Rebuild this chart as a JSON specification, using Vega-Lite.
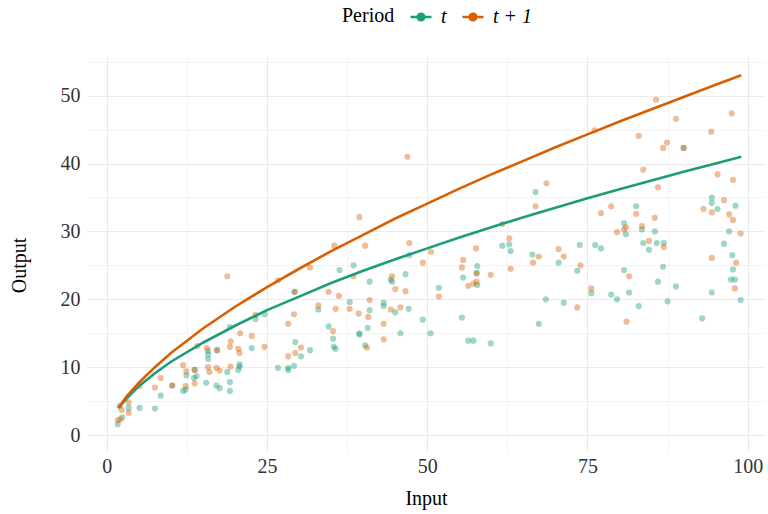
{
  "$schema": "https://vega.github.io/schema/vega-lite/v6.json",
  "width": 678,
  "height": 395,
  "autosize": {"type": "none"},
  "padding": {"left": 87, "top": 57, "right": 3, "bottom": 62},
  "background": "white",
  "config": {
    "font": "Liberation Serif",
    "view": {"stroke": null},
    "axis": {
      "domain": false,
      "ticks": false,
      "labelFont": "Liberation Serif",
      "labelFontSize": 20,
      "labelColor": "#333333",
      "titleFont": "Liberation Serif",
      "titleFontSize": 20,
      "titleFontWeight": "normal",
      "titleColor": "#000000",
      "gridColor": "#ebebeb"
    },
    "legend": {
      "titleFont": "Liberation Serif",
      "labelFont": "Liberation Serif"
    }
  },
  "data": {
    "values": [
      {"kind": "pt", "period": "t", "input": 19.2, "output": 15.9},
      {"kind": "pt", "period": "t", "input": 23.2, "output": 17.1},
      {"kind": "pt", "period": "t", "input": 24.6, "output": 17.8},
      {"kind": "pt", "period": "t", "input": 22.6, "output": 12.8},
      {"kind": "pt", "period": "t", "input": 15.8, "output": 12.4},
      {"kind": "pt", "period": "t", "input": 15.8, "output": 11.9},
      {"kind": "pt", "period": "t", "input": 15.8, "output": 11.2},
      {"kind": "pt", "period": "t", "input": 20.7, "output": 10.4},
      {"kind": "pt", "period": "t", "input": 20.7, "output": 10.1},
      {"kind": "pt", "period": "t", "input": 20.5, "output": 9.6},
      {"kind": "pt", "period": "t", "input": 18.8, "output": 9.3},
      {"kind": "pt", "period": "t", "input": 12.4, "output": 8.8},
      {"kind": "pt", "period": "t", "input": 14.0, "output": 8.7},
      {"kind": "pt", "period": "t", "input": 13.6, "output": 8.4},
      {"kind": "pt", "period": "t", "input": 15.5, "output": 7.7},
      {"kind": "pt", "period": "t", "input": 17.1, "output": 7.3},
      {"kind": "pt", "period": "t", "input": 17.6, "output": 6.9},
      {"kind": "pt", "period": "t", "input": 19.2, "output": 7.8},
      {"kind": "pt", "period": "t", "input": 19.2, "output": 6.5},
      {"kind": "pt", "period": "t", "input": 11.9, "output": 6.5},
      {"kind": "pt", "period": "t", "input": 12.3, "output": 6.7},
      {"kind": "pt", "period": "t", "input": 8.4, "output": 5.8},
      {"kind": "pt", "period": "t", "input": 5.1, "output": 4.0},
      {"kind": "pt", "period": "t", "input": 7.5, "output": 3.9},
      {"kind": "pt", "period": "t", "input": 3.4, "output": 4.0},
      {"kind": "pt", "period": "t", "input": 2.0, "output": 4.3},
      {"kind": "pt", "period": "t", "input": 2.4, "output": 2.6},
      {"kind": "pt", "period": "t", "input": 1.7, "output": 1.6},
      {"kind": "pt", "period": "t", "input": 17.2, "output": 12.5},
      {"kind": "pt", "period": "t", "input": 13.7, "output": 9.6},
      {"kind": "pt", "period": "t", "input": 10.2, "output": 7.3},
      {"kind": "pt", "period": "t", "input": 36.3, "output": 24.3},
      {"kind": "pt", "period": "t", "input": 38.5, "output": 25.0},
      {"kind": "pt", "period": "t", "input": 41.0, "output": 22.6},
      {"kind": "pt", "period": "t", "input": 44.3, "output": 22.9},
      {"kind": "pt", "period": "t", "input": 44.5, "output": 22.6},
      {"kind": "pt", "period": "t", "input": 46.6, "output": 23.7},
      {"kind": "pt", "period": "t", "input": 47.2, "output": 26.5},
      {"kind": "pt", "period": "t", "input": 29.3, "output": 21.1},
      {"kind": "pt", "period": "t", "input": 33.0, "output": 18.5},
      {"kind": "pt", "period": "t", "input": 37.9, "output": 19.6},
      {"kind": "pt", "period": "t", "input": 41.0, "output": 18.4},
      {"kind": "pt", "period": "t", "input": 43.2, "output": 19.5},
      {"kind": "pt", "period": "t", "input": 43.2, "output": 19.0},
      {"kind": "pt", "period": "t", "input": 45.0, "output": 18.1},
      {"kind": "pt", "period": "t", "input": 47.1, "output": 18.6},
      {"kind": "pt", "period": "t", "input": 34.6, "output": 16.0},
      {"kind": "pt", "period": "t", "input": 35.3, "output": 14.2},
      {"kind": "pt", "period": "t", "input": 35.4, "output": 13.0},
      {"kind": "pt", "period": "t", "input": 35.7, "output": 12.7},
      {"kind": "pt", "period": "t", "input": 39.4, "output": 15.0},
      {"kind": "pt", "period": "t", "input": 39.4, "output": 14.8},
      {"kind": "pt", "period": "t", "input": 40.7, "output": 15.8},
      {"kind": "pt", "period": "t", "input": 40.3, "output": 13.2},
      {"kind": "pt", "period": "t", "input": 45.8, "output": 15.0},
      {"kind": "pt", "period": "t", "input": 49.3, "output": 17.0},
      {"kind": "pt", "period": "t", "input": 50.5, "output": 15.0},
      {"kind": "pt", "period": "t", "input": 29.4, "output": 13.7},
      {"kind": "pt", "period": "t", "input": 30.3, "output": 11.6},
      {"kind": "pt", "period": "t", "input": 31.7, "output": 12.5},
      {"kind": "pt", "period": "t", "input": 29.2, "output": 10.2},
      {"kind": "pt", "period": "t", "input": 28.3, "output": 9.9},
      {"kind": "pt", "period": "t", "input": 28.3, "output": 9.6},
      {"kind": "pt", "period": "t", "input": 26.7, "output": 9.9},
      {"kind": "pt", "period": "t", "input": 66.9, "output": 35.8},
      {"kind": "pt", "period": "t", "input": 61.7, "output": 27.9},
      {"kind": "pt", "period": "t", "input": 62.8, "output": 28.1},
      {"kind": "pt", "period": "t", "input": 63.0, "output": 27.1},
      {"kind": "pt", "period": "t", "input": 66.4, "output": 26.6},
      {"kind": "pt", "period": "t", "input": 70.5, "output": 25.4},
      {"kind": "pt", "period": "t", "input": 73.8, "output": 28.0},
      {"kind": "pt", "period": "t", "input": 73.4, "output": 24.2},
      {"kind": "pt", "period": "t", "input": 57.8, "output": 24.9},
      {"kind": "pt", "period": "t", "input": 55.6, "output": 23.2},
      {"kind": "pt", "period": "t", "input": 57.7, "output": 23.9},
      {"kind": "pt", "period": "t", "input": 57.8, "output": 22.1},
      {"kind": "pt", "period": "t", "input": 51.8, "output": 21.7},
      {"kind": "pt", "period": "t", "input": 68.5, "output": 20.0},
      {"kind": "pt", "period": "t", "input": 71.3, "output": 19.5},
      {"kind": "pt", "period": "t", "input": 55.4, "output": 17.3},
      {"kind": "pt", "period": "t", "input": 67.4, "output": 16.4},
      {"kind": "pt", "period": "t", "input": 56.4, "output": 13.9},
      {"kind": "pt", "period": "t", "input": 57.2, "output": 13.9},
      {"kind": "pt", "period": "t", "input": 59.9, "output": 13.5},
      {"kind": "pt", "period": "t", "input": 75.6, "output": 20.9},
      {"kind": "pt", "period": "t", "input": 90.0, "output": 42.3},
      {"kind": "pt", "period": "t", "input": 94.4, "output": 35.0},
      {"kind": "pt", "period": "t", "input": 94.4, "output": 34.2},
      {"kind": "pt", "period": "t", "input": 95.3, "output": 33.3},
      {"kind": "pt", "period": "t", "input": 98.1, "output": 33.8},
      {"kind": "pt", "period": "t", "input": 82.6, "output": 33.7},
      {"kind": "pt", "period": "t", "input": 80.7, "output": 31.2},
      {"kind": "pt", "period": "t", "input": 81.0, "output": 29.6},
      {"kind": "pt", "period": "t", "input": 83.5, "output": 30.3},
      {"kind": "pt", "period": "t", "input": 85.5, "output": 30.0},
      {"kind": "pt", "period": "t", "input": 97.1, "output": 30.0},
      {"kind": "pt", "period": "t", "input": 83.7, "output": 28.3},
      {"kind": "pt", "period": "t", "input": 84.6, "output": 27.3},
      {"kind": "pt", "period": "t", "input": 85.8, "output": 28.3},
      {"kind": "pt", "period": "t", "input": 86.9, "output": 28.3},
      {"kind": "pt", "period": "t", "input": 76.2, "output": 28.0},
      {"kind": "pt", "period": "t", "input": 77.1, "output": 27.5},
      {"kind": "pt", "period": "t", "input": 96.3, "output": 28.2},
      {"kind": "pt", "period": "t", "input": 97.6, "output": 26.5},
      {"kind": "pt", "period": "t", "input": 97.7, "output": 24.4},
      {"kind": "pt", "period": "t", "input": 97.4, "output": 22.9},
      {"kind": "pt", "period": "t", "input": 98.0, "output": 22.9},
      {"kind": "pt", "period": "t", "input": 86.8, "output": 24.8},
      {"kind": "pt", "period": "t", "input": 80.7, "output": 24.3},
      {"kind": "pt", "period": "t", "input": 86.0, "output": 22.6},
      {"kind": "pt", "period": "t", "input": 88.8, "output": 21.9},
      {"kind": "pt", "period": "t", "input": 81.5, "output": 21.0},
      {"kind": "pt", "period": "t", "input": 78.7, "output": 20.7},
      {"kind": "pt", "period": "t", "input": 79.6, "output": 20.0},
      {"kind": "pt", "period": "t", "input": 83.0, "output": 19.0},
      {"kind": "pt", "period": "t", "input": 87.5, "output": 19.7},
      {"kind": "pt", "period": "t", "input": 94.4, "output": 21.0},
      {"kind": "pt", "period": "t", "input": 98.9, "output": 19.9},
      {"kind": "pt", "period": "t", "input": 92.9, "output": 17.2},

      {"kind": "pt", "period": "t + 1", "input": 18.8, "output": 23.4},
      {"kind": "pt", "period": "t + 1", "input": 23.2, "output": 17.7},
      {"kind": "pt", "period": "t + 1", "input": 20.8, "output": 15.0},
      {"kind": "pt", "period": "t + 1", "input": 22.6, "output": 14.6},
      {"kind": "pt", "period": "t + 1", "input": 24.6, "output": 13.0},
      {"kind": "pt", "period": "t + 1", "input": 19.3, "output": 13.8},
      {"kind": "pt", "period": "t + 1", "input": 19.2, "output": 13.0},
      {"kind": "pt", "period": "t + 1", "input": 20.5, "output": 12.7},
      {"kind": "pt", "period": "t + 1", "input": 20.7, "output": 12.1},
      {"kind": "pt", "period": "t + 1", "input": 14.1, "output": 13.1},
      {"kind": "pt", "period": "t + 1", "input": 15.6, "output": 12.8},
      {"kind": "pt", "period": "t + 1", "input": 17.2, "output": 12.5},
      {"kind": "pt", "period": "t + 1", "input": 11.9, "output": 10.3},
      {"kind": "pt", "period": "t + 1", "input": 12.4, "output": 9.4},
      {"kind": "pt", "period": "t + 1", "input": 13.7, "output": 9.6},
      {"kind": "pt", "period": "t + 1", "input": 15.8, "output": 10.0},
      {"kind": "pt", "period": "t + 1", "input": 16.0, "output": 9.3},
      {"kind": "pt", "period": "t + 1", "input": 17.1, "output": 9.9},
      {"kind": "pt", "period": "t + 1", "input": 17.6, "output": 9.5},
      {"kind": "pt", "period": "t + 1", "input": 19.3, "output": 10.1},
      {"kind": "pt", "period": "t + 1", "input": 8.4, "output": 8.4},
      {"kind": "pt", "period": "t + 1", "input": 7.5, "output": 7.0},
      {"kind": "pt", "period": "t + 1", "input": 10.2, "output": 7.3},
      {"kind": "pt", "period": "t + 1", "input": 12.3, "output": 7.2},
      {"kind": "pt", "period": "t + 1", "input": 13.7, "output": 7.6},
      {"kind": "pt", "period": "t + 1", "input": 5.1, "output": 7.2},
      {"kind": "pt", "period": "t + 1", "input": 3.4, "output": 4.8},
      {"kind": "pt", "period": "t + 1", "input": 3.4, "output": 3.3},
      {"kind": "pt", "period": "t + 1", "input": 2.3, "output": 3.7},
      {"kind": "pt", "period": "t + 1", "input": 1.7, "output": 2.2},
      {"kind": "pt", "period": "t + 1", "input": 2.1, "output": 2.3},
      {"kind": "pt", "period": "t + 1", "input": 39.4, "output": 32.1},
      {"kind": "pt", "period": "t + 1", "input": 35.5, "output": 27.9},
      {"kind": "pt", "period": "t + 1", "input": 40.3, "output": 27.9},
      {"kind": "pt", "period": "t + 1", "input": 31.7, "output": 24.7},
      {"kind": "pt", "period": "t + 1", "input": 26.7, "output": 22.8},
      {"kind": "pt", "period": "t + 1", "input": 29.3, "output": 21.1},
      {"kind": "pt", "period": "t + 1", "input": 34.6, "output": 21.1},
      {"kind": "pt", "period": "t + 1", "input": 36.2, "output": 20.5},
      {"kind": "pt", "period": "t + 1", "input": 38.5, "output": 23.4},
      {"kind": "pt", "period": "t + 1", "input": 44.5, "output": 23.4},
      {"kind": "pt", "period": "t + 1", "input": 45.0, "output": 21.5},
      {"kind": "pt", "period": "t + 1", "input": 46.6, "output": 21.2},
      {"kind": "pt", "period": "t + 1", "input": 47.2, "output": 28.3},
      {"kind": "pt", "period": "t + 1", "input": 49.3, "output": 25.4},
      {"kind": "pt", "period": "t + 1", "input": 41.0, "output": 19.9},
      {"kind": "pt", "period": "t + 1", "input": 33.0, "output": 19.1},
      {"kind": "pt", "period": "t + 1", "input": 35.7, "output": 18.6},
      {"kind": "pt", "period": "t + 1", "input": 37.9, "output": 18.6},
      {"kind": "pt", "period": "t + 1", "input": 39.3, "output": 17.9},
      {"kind": "pt", "period": "t + 1", "input": 40.8, "output": 17.4},
      {"kind": "pt", "period": "t + 1", "input": 44.3, "output": 18.5},
      {"kind": "pt", "period": "t + 1", "input": 45.8, "output": 18.8},
      {"kind": "pt", "period": "t + 1", "input": 29.2, "output": 17.8},
      {"kind": "pt", "period": "t + 1", "input": 28.3, "output": 16.4},
      {"kind": "pt", "period": "t + 1", "input": 35.3, "output": 15.3},
      {"kind": "pt", "period": "t + 1", "input": 43.2, "output": 16.4},
      {"kind": "pt", "period": "t + 1", "input": 43.2, "output": 14.1},
      {"kind": "pt", "period": "t + 1", "input": 40.6, "output": 12.9},
      {"kind": "pt", "period": "t + 1", "input": 30.3, "output": 12.9},
      {"kind": "pt", "period": "t + 1", "input": 29.4, "output": 12.1},
      {"kind": "pt", "period": "t + 1", "input": 28.3, "output": 11.6},
      {"kind": "pt", "period": "t + 1", "input": 46.9, "output": 41.0},
      {"kind": "pt", "period": "t + 1", "input": 68.6, "output": 37.1},
      {"kind": "pt", "period": "t + 1", "input": 66.9, "output": 33.7},
      {"kind": "pt", "period": "t + 1", "input": 61.7, "output": 31.1},
      {"kind": "pt", "period": "t + 1", "input": 62.8, "output": 29.0},
      {"kind": "pt", "period": "t + 1", "input": 50.6, "output": 27.0},
      {"kind": "pt", "period": "t + 1", "input": 57.6, "output": 27.5},
      {"kind": "pt", "period": "t + 1", "input": 55.6, "output": 25.8},
      {"kind": "pt", "period": "t + 1", "input": 55.4, "output": 24.7},
      {"kind": "pt", "period": "t + 1", "input": 57.7, "output": 23.8},
      {"kind": "pt", "period": "t + 1", "input": 59.9, "output": 23.6},
      {"kind": "pt", "period": "t + 1", "input": 63.0, "output": 24.5},
      {"kind": "pt", "period": "t + 1", "input": 66.5, "output": 25.4},
      {"kind": "pt", "period": "t + 1", "input": 67.4, "output": 26.3},
      {"kind": "pt", "period": "t + 1", "input": 70.5, "output": 27.4},
      {"kind": "pt", "period": "t + 1", "input": 71.3, "output": 26.3},
      {"kind": "pt", "period": "t + 1", "input": 73.9, "output": 25.0},
      {"kind": "pt", "period": "t + 1", "input": 56.4, "output": 22.0},
      {"kind": "pt", "period": "t + 1", "input": 57.2, "output": 22.3},
      {"kind": "pt", "period": "t + 1", "input": 57.7, "output": 22.6},
      {"kind": "pt", "period": "t + 1", "input": 51.8, "output": 20.4},
      {"kind": "pt", "period": "t + 1", "input": 73.4, "output": 18.8},
      {"kind": "pt", "period": "t + 1", "input": 75.6, "output": 21.6},
      {"kind": "pt", "period": "t + 1", "input": 85.7, "output": 49.4},
      {"kind": "pt", "period": "t + 1", "input": 97.5, "output": 47.4},
      {"kind": "pt", "period": "t + 1", "input": 88.8, "output": 46.6},
      {"kind": "pt", "period": "t + 1", "input": 76.1, "output": 44.9},
      {"kind": "pt", "period": "t + 1", "input": 94.3, "output": 44.7},
      {"kind": "pt", "period": "t + 1", "input": 83.0, "output": 44.1},
      {"kind": "pt", "period": "t + 1", "input": 87.4, "output": 43.1},
      {"kind": "pt", "period": "t + 1", "input": 86.8, "output": 42.3},
      {"kind": "pt", "period": "t + 1", "input": 90.0, "output": 42.3},
      {"kind": "pt", "period": "t + 1", "input": 83.7, "output": 39.1},
      {"kind": "pt", "period": "t + 1", "input": 95.3, "output": 38.4},
      {"kind": "pt", "period": "t + 1", "input": 97.7, "output": 37.6},
      {"kind": "pt", "period": "t + 1", "input": 86.0, "output": 36.5},
      {"kind": "pt", "period": "t + 1", "input": 78.7, "output": 33.7},
      {"kind": "pt", "period": "t + 1", "input": 77.1, "output": 32.7},
      {"kind": "pt", "period": "t + 1", "input": 82.6, "output": 32.6},
      {"kind": "pt", "period": "t + 1", "input": 85.5, "output": 32.0},
      {"kind": "pt", "period": "t + 1", "input": 93.1, "output": 33.3},
      {"kind": "pt", "period": "t + 1", "input": 94.4, "output": 32.8},
      {"kind": "pt", "period": "t + 1", "input": 96.3, "output": 34.6},
      {"kind": "pt", "period": "t + 1", "input": 97.1, "output": 32.5},
      {"kind": "pt", "period": "t + 1", "input": 97.7, "output": 31.7},
      {"kind": "pt", "period": "t + 1", "input": 98.9, "output": 29.7},
      {"kind": "pt", "period": "t + 1", "input": 79.6, "output": 29.9},
      {"kind": "pt", "period": "t + 1", "input": 80.7, "output": 30.3},
      {"kind": "pt", "period": "t + 1", "input": 81.0, "output": 30.6},
      {"kind": "pt", "period": "t + 1", "input": 83.5, "output": 30.8},
      {"kind": "pt", "period": "t + 1", "input": 84.6, "output": 28.6},
      {"kind": "pt", "period": "t + 1", "input": 86.9, "output": 27.7},
      {"kind": "pt", "period": "t + 1", "input": 94.4, "output": 26.1},
      {"kind": "pt", "period": "t + 1", "input": 98.2, "output": 25.4},
      {"kind": "pt", "period": "t + 1", "input": 81.5, "output": 23.4},
      {"kind": "pt", "period": "t + 1", "input": 98.0, "output": 21.6},
      {"kind": "pt", "period": "t + 1", "input": 81.1, "output": 16.7},

      {"kind": "ln", "period": "t", "input": 1.8, "output": 4.0},
      {"kind": "ln", "period": "t", "input": 3, "output": 5.3},
      {"kind": "ln", "period": "t", "input": 5, "output": 7.2},
      {"kind": "ln", "period": "t", "input": 7.5, "output": 9.1},
      {"kind": "ln", "period": "t", "input": 10, "output": 10.8},
      {"kind": "ln", "period": "t", "input": 15, "output": 13.6},
      {"kind": "ln", "period": "t", "input": 20, "output": 16.1},
      {"kind": "ln", "period": "t", "input": 25, "output": 18.4},
      {"kind": "ln", "period": "t", "input": 30, "output": 20.4},
      {"kind": "ln", "period": "t", "input": 35, "output": 22.4},
      {"kind": "ln", "period": "t", "input": 40, "output": 24.2},
      {"kind": "ln", "period": "t", "input": 45, "output": 25.9},
      {"kind": "ln", "period": "t", "input": 50, "output": 27.5},
      {"kind": "ln", "period": "t", "input": 55, "output": 29.1},
      {"kind": "ln", "period": "t", "input": 60, "output": 30.6},
      {"kind": "ln", "period": "t", "input": 65, "output": 32.1},
      {"kind": "ln", "period": "t", "input": 70, "output": 33.5},
      {"kind": "ln", "period": "t", "input": 75, "output": 34.9},
      {"kind": "ln", "period": "t", "input": 80, "output": 36.2},
      {"kind": "ln", "period": "t", "input": 85, "output": 37.5},
      {"kind": "ln", "period": "t", "input": 90, "output": 38.8},
      {"kind": "ln", "period": "t", "input": 95, "output": 40.0},
      {"kind": "ln", "period": "t", "input": 99, "output": 41.0},

      {"kind": "ln", "period": "t + 1", "input": 1.8, "output": 4.0},
      {"kind": "ln", "period": "t + 1", "input": 3, "output": 5.6},
      {"kind": "ln", "period": "t + 1", "input": 5, "output": 7.7},
      {"kind": "ln", "period": "t + 1", "input": 7.5, "output": 10.0},
      {"kind": "ln", "period": "t + 1", "input": 10, "output": 12.1},
      {"kind": "ln", "period": "t + 1", "input": 15, "output": 15.7},
      {"kind": "ln", "period": "t + 1", "input": 20, "output": 18.9},
      {"kind": "ln", "period": "t + 1", "input": 25, "output": 21.8},
      {"kind": "ln", "period": "t + 1", "input": 30, "output": 24.5},
      {"kind": "ln", "period": "t + 1", "input": 35, "output": 27.1},
      {"kind": "ln", "period": "t + 1", "input": 40, "output": 29.5},
      {"kind": "ln", "period": "t + 1", "input": 45, "output": 31.9},
      {"kind": "ln", "period": "t + 1", "input": 50, "output": 34.1},
      {"kind": "ln", "period": "t + 1", "input": 55, "output": 36.3},
      {"kind": "ln", "period": "t + 1", "input": 60, "output": 38.4},
      {"kind": "ln", "period": "t + 1", "input": 65, "output": 40.4},
      {"kind": "ln", "period": "t + 1", "input": 70, "output": 42.4},
      {"kind": "ln", "period": "t + 1", "input": 75, "output": 44.3},
      {"kind": "ln", "period": "t + 1", "input": 80, "output": 46.2},
      {"kind": "ln", "period": "t + 1", "input": 85, "output": 48.0},
      {"kind": "ln", "period": "t + 1", "input": 90, "output": 49.8},
      {"kind": "ln", "period": "t + 1", "input": 95, "output": 51.6},
      {"kind": "ln", "period": "t + 1", "input": 99, "output": 53.0}
    ]
  },
  "encoding": {
    "x": {
      "field": "input",
      "type": "quantitative",
      "title": "Input",
      "scale": {"domain": [-3.1, 102.7], "nice": false, "zero": false},
      "axis": {
        "values": [0, 12.5, 25, 37.5, 50, 62.5, 75, 87.5, 100],
        "labelExpr": "datum.value % 25 === 0 ? datum.label : ''",
        "labelPadding": 4,
        "titlePadding": 12,
        "gridWidth": {"condition": {"test": "datum.value % 25 === 0", "value": 1.1}, "value": 0.6}
      }
    },
    "y": {
      "field": "output",
      "type": "quantitative",
      "title": "Output",
      "scale": {"domain": [-2.5, 55.7], "nice": false, "zero": false},
      "axis": {
        "values": [0, 5, 10, 15, 20, 25, 30, 35, 40, 45, 50, 55],
        "labelExpr": "datum.value % 10 === 0 ? datum.label : ''",
        "labelPadding": 7,
        "titlePadding": 31,
        "titleY": 208,
        "gridWidth": {"condition": {"test": "datum.value % 10 === 0", "value": 1.1}, "value": 0.6}
      }
    },
    "color": {
      "field": "period",
      "type": "nominal",
      "title": "Period",
      "scale": {"domain": ["t", "t + 1"], "range": ["#1b9e77", "#d95f02"]},
      "legend": {
        "orient": "none",
        "direction": "horizontal",
        "legendX": 255,
        "legendY": -52,
        "titleOrient": "left",
        "titleFont": "Liberation Serif",
        "titleFontSize": 20,
        "titleFontWeight": "normal",
        "titleColor": "#000000",
        "titlePadding": 14,
        "labelFont": "Liberation Serif",
        "labelFontSize": 20,
        "labelFontStyle": "italic",
        "labelColor": "#000000",
        "labelOffset": 8,
        "columnPadding": 10,
        "symbolType": "M-1,0H1M-0.32,0A0.32,0.32,0,1,1,0.32,0A0.32,0.32,0,1,1,-0.32,0",
        "symbolSize": 441,
        "symbolStrokeWidth": 2.5,
        "symbolOpacity": 1,
        "encode": {
          "symbols": {
            "update": {
              "fill": {"scale": "color", "field": "value"},
              "stroke": {"scale": "color", "field": "value"}
            }
          }
        }
      }
    }
  },
  "layer": [
    {
      "transform": [{"filter": "datum.kind === 'pt'"}],
      "mark": {"type": "circle", "size": 38, "opacity": 0.42}
    },
    {
      "transform": [{"filter": "datum.kind === 'ln'"}],
      "mark": {"type": "line", "strokeWidth": 2.6}
    }
  ]
}
